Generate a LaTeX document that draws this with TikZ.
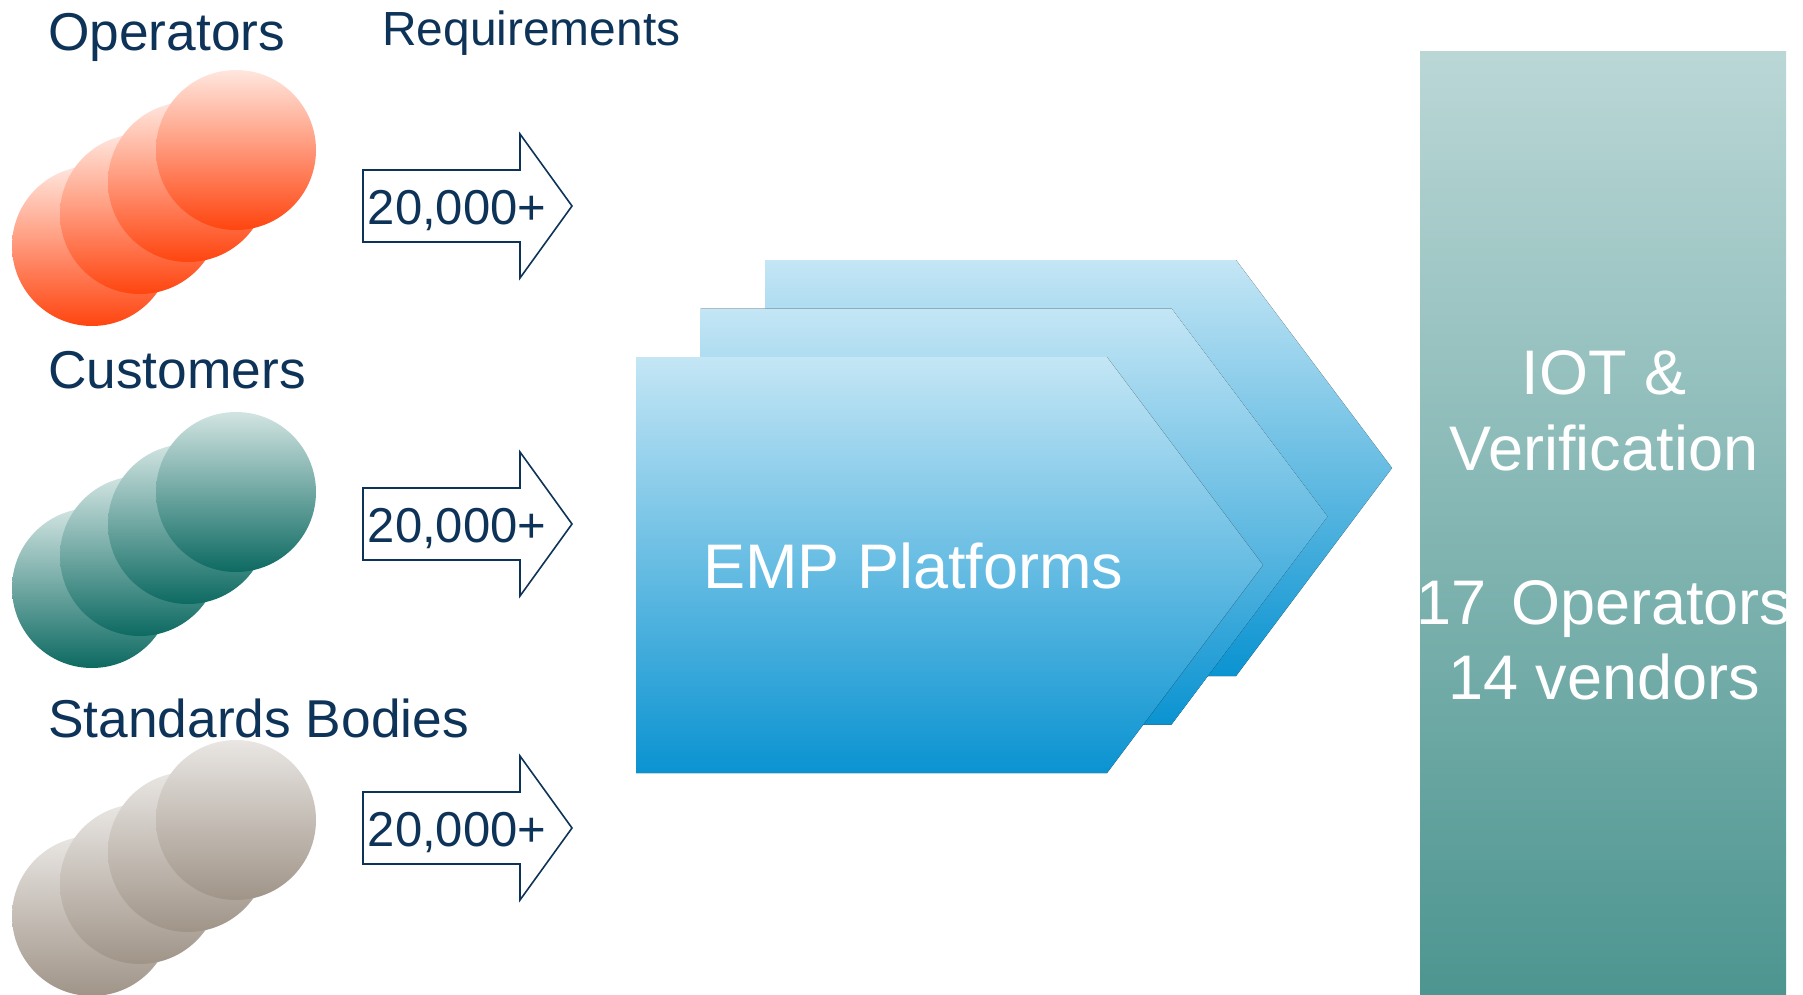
\documentclass[tikz,border=0pt]{standalone}
\usepackage{fontspec}
\setmainfont{Liberation Sans}
\usepackage{tikz}
\usetikzlibrary{positioning}

\definecolor{navy}{HTML}{0E3358}
\definecolor{opsTop}{HTML}{FFE6DE}
\definecolor{opsBot}{HTML}{FF4510}
\definecolor{cusTop}{HTML}{D2E4E2}
\definecolor{cusBot}{HTML}{0D6A62}
\definecolor{stdTop}{HTML}{E9E6E3}
\definecolor{stdBot}{HTML}{A09488}
\definecolor{empTop}{HTML}{C4E6F5}
\definecolor{empMid}{HTML}{8FC4E4}
\definecolor{empBot}{HTML}{0A93D1}
\definecolor{iotTop}{HTML}{BAD7D6}
\definecolor{iotBot}{HTML}{4D9590}

\begin{document}
\begin{tikzpicture}[x=1pt, y=-1pt,
    grouplabel/.style={text=navy, inner sep=0pt, anchor=base west, font=\fontsize{53.3}{60}\selectfont},
    ball/.style={circle, minimum size=160pt, inner sep=0pt},
    reqarrow/.style={draw=navy, fill=white, line width=1.6pt},
    count/.style={text=navy, inner sep=0pt, anchor=base, font=\fontsize{49}{56}\selectfont},
    hexshade/.style={top color=empTop, middle color=empMid, bottom color=empBot},
    iottext/.style={text=white, inner sep=0pt, anchor=base, font=\fontsize{63}{72}\selectfont}]
    \useasboundingbox (0,0) rectangle (1803,995);

    % titles
    \node[grouplabel] (ops) at (48,50.5) {Operators};
    \node[grouplabel, font=\fontsize{47.9}{54}\selectfont] (req) at (382,45.5) {Requirements};
    \node[grouplabel] (cus) at (48,388) {Customers};
    \node[grouplabel] (std) at (48,737) {Standards Bodies};

    % groups of circles
    \foreach \grp/\y/\tc/\bc in {op/150/opsTop/opsBot, cu/492/cusTop/cusBot, sb/820/stdTop/stdBot}
        \foreach \i in {1,...,4}
            \node[ball, top color=\tc, bottom color=\bc] (\grp\i) at ({92+48*(\i-1)}, {\y+96-32*(\i-1)}) {};

    % requirement arrows
    \foreach \y/\nm in {206/reqA, 524/reqB, 828/reqC} {
        \draw[reqarrow] (363,\y-36) -- (520,\y-36) -- (520,\y-72) -- (572,\y)
            -- (520,\y+72) -- (520,\y+36) -- (363,\y+36) -- cycle;
        \node[count] (\nm) at (457,\y+18) {20,000+};
    }

    % platforms
    \foreach \k in {2,1,0}
        \fill[hexshade] ({636+64.5*\k},{357-48.5*\k}) -- ++(471,0) -- ++(156,208)
            -- ++(-156,208) -- ++(-471,0) -- cycle;
    \node[iottext, anchor=base west] (emp) at (703,588) {EMP Platforms};

    % IOT column
    \fill[top color=iotTop, bottom color=iotBot] (1420,52) rectangle (1786,995);
    \node[iottext] (iot1) at (1604,394) {IOT \&};
    \node[iottext] (iot2) at (1604,470) {Verification};
    \node[iottext] (iot3) at (1604,624) {17\kern7pt{} Operators};
    \node[iottext] (iot4) at (1604,699) {14 vendors};
\end{tikzpicture}
\end{document}
